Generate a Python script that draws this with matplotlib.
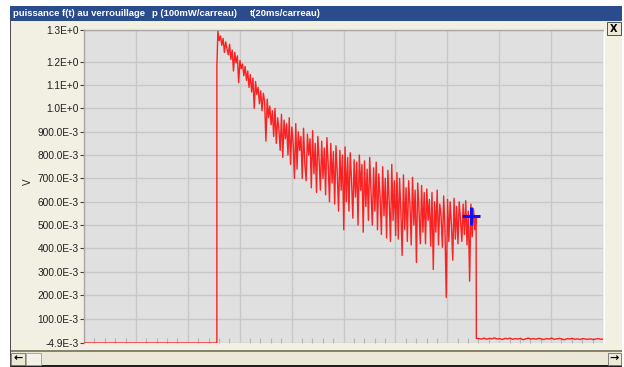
import numpy as np
import matplotlib
matplotlib.use("Agg")
import matplotlib.pyplot as plt
from matplotlib.patches import Rectangle
from matplotlib.ticker import MultipleLocator

# ---- data (power in milli-units, time in ms) ----
y_min = -0.0049
y_max = 1.338
t_rise = 51.2
rise_step = 1180          # small intermediate step on the rising edge
t_start = 51.6            # first sample of the pulse
dt_ms = 0.5

pulse_milli = [
    # 51.6 .. 61.1 ms
    1330, 1290, 1310, 1270, 1300, 1240, 1285, 1255, 1230, 1275,
    1210, 1250, 1160, 1240, 1195, 1225, 1110, 1205, 1170, 1190,
    # 61.6 .. 71.1 ms
    1140, 1180, 1120, 1160, 1090, 1145, 1070, 1130, 1000, 1115,
    1060, 1090, 1020, 1075, 990, 1065, 1030, 860, 1040, 960,
    # 71.6 .. 81.1 ms
    1010, 930, 990, 880, 1000, 850, 960, 910, 820, 975,
    790, 950, 870, 935, 800, 960, 760, 920, 850, 700,
    # 81.6 .. 91.1 ms
    935, 740, 900, 820, 880, 700, 915, 760, 690, 890,
    800, 870, 660, 905, 720, 850, 640, 880, 780, 650,
    # 91.6 .. 101.1 ms
    860, 700, 830, 630, 875, 760, 600, 850, 680, 815,
    590, 840, 720, 560, 820, 650, 800, 480, 835, 600,
    # 101.6 .. 111.1 ms
    790, 560, 810, 690, 530, 780, 620, 770, 500, 800,
    650, 760, 470, 775, 580, 740, 520, 790, 640, 500,
    # 111.6 .. 121.1 ms
    745, 560, 770, 480, 720, 620, 460, 750, 540, 700,
    445, 735, 600, 430, 760, 520, 690, 455, 725, 440,
    # 121.6 .. 131.1 ms
    700, 560, 370, 715, 480, 660, 430, 690, 590, 415,
    705, 500, 650, 340, 680, 560, 420, 670, 470, 640,
    # 131.6 .. 141.1 ms
    420, 655, 520, 610, 410, 640, 310, 600, 470, 650,
    415, 590, 540, 405, 625, 480, 190, 610, 430, 600,
    # 141.6 .. 151.1 ms
    500, 350, 615, 440, 580, 420, 600, 520, 430, 590,
    460, 605, 415, 560, 260, 590, 450, 570, 480, 530,
]

baseline_milli = [
    15, 14, 12, 16, 11, 15, 13, 17, 12, 14,
    10, 15, 13, 16, 11, 14, 12, 15, 9, 13,
    16, 12, 14, 11, 15, 13, 10, 14, 12, 16,
    11, 13, 15, 12, 9, 14, 12, 15, 11, 13,
    10, 14, 12, 11, 13, 10, 12, 14, 11, 12,
]
t_fall_end = 151.2
dt_base = 1.0

cursor_t = 149.0
cursor_p = 0.54

y_ticks = [y_min, 0.1, 0.2, 0.3, 0.4, 0.5, 0.6, 0.7, 0.8, 0.9, 1.0, 1.1, 1.2, y_max]
y_labels = ['-4.9E-3', '100.0E-3', '200.0E-3', '300.0E-3', '400.0E-3', '500.0E-3',
            '600.0E-3', '700.0E-3', '800.0E-3', '900.0E-3', '1.0E+0', '1.1E+0',
            '1.2E+0', '1.3E+0']

title_parts = ['puissance f(t) au verrouillage', 'p (100mW/carreau)', 't(20ms/carreau)']

# ---- build the trace ----
t_pulse = t_start + dt_ms * np.arange(len(pulse_milli))
t_base = t_fall_end + dt_base * np.arange(len(baseline_milli))
t_all = np.concatenate([[0.0, t_rise, t_rise], t_pulse, t_base])
p_all = np.concatenate([[y_min * 1000, y_min * 1000, rise_step], pulse_milli, baseline_milli]) / 1000.0

# ---- figure & window chrome ----
W, H = 624, 367
fig = plt.figure(figsize=(W / 100, H / 100), dpi=100, facecolor='white')


def box(x0, y0, x1, y1):
    return (x0 / W, 1 - y1 / H, (x1 - x0) / W, (y1 - y0) / H)


def rect(x0, y0, x1, y1, fc, ec='none', lw=0, z=-5):
    l, b, w, h = box(x0, y0, x1, y1)
    fig.add_artist(Rectangle((l, b), w, h, transform=fig.transFigure,
                             facecolor=fc, edgecolor=ec, linewidth=lw, zorder=z))


rect(10, 20, 622, 366, '#f2f0e3')             # window body
rect(10, 6, 622, 20.5, '#2b4c8c')             # title bar
rect(603.5, 29, 605, 344, '#ffffff', z=-4)    # light separator right of plot
rect(10, 350, 622, 352, '#86846f', z=-4)      # scrollbar top border
rect(10, 352, 622, 365, '#ebe8d8', z=-4)      # scrollbar track
rect(10, 365, 622, 367, '#202020', z=-4)      # bottom border
rect(10, 20, 11, 366, '#505050', z=-3)        # left border
rect(11, 352.5, 25, 364.5, '#ece9d8', ec='#707070', lw=0.6, z=-2)   # left arrow btn
rect(26, 352.5, 41, 364.5, '#f4f2e8', ec='#a0a090', lw=0.6, z=-2)   # thumb
rect(608, 352.5, 621, 364.5, '#ece9d8', ec='#707070', lw=0.6, z=-2)  # right arrow btn
rect(607, 22, 621, 35, '#ece9d8', ec='#505050', lw=0.7, z=-2)       # close button

fig.text(18 / W, 1 - 358.5 / H, '\u2190', ha='center', va='center', fontsize=8,
         fontweight='bold', color='black')
fig.text(614.5 / W, 1 - 358.5 / H, '\u2192', ha='center', va='center', fontsize=8,
         fontweight='bold', color='black')
fig.text(614 / W, 1 - 28.5 / H, 'X', ha='center', va='center', fontsize=7,
         fontweight='bold', color='black', family='DejaVu Sans')

for x_px, txt in zip([13, 152, 250], title_parts):
    fig.text(x_px / W, 1 - 13.5 / H, txt, ha='left', va='center', fontsize=6.8,
             fontweight='bold', color='white', family='Liberation Sans')

fig.text(28 / W, 1 - 182 / H, 'V', rotation=90, ha='center', va='center',
         fontsize=7, color='#202020', family='Liberation Sans')

# ---- plot area ----
ax = fig.add_axes(box(84, 29.5, 603, 343))
ax.set_facecolor('#e0e0e0')
ax.plot(t_all, p_all, color='#ff0000', lw=1.0, alpha=0.85, zorder=3)
ax.plot([cursor_t], [cursor_p], marker='+', markersize=13, mew=2.2,
        color='#1010ff', zorder=5)

ax.set_xlim(0, 200)
ax.set_ylim(y_min, y_max)
ax.set_yticks(y_ticks)
ax.set_yticklabels(y_labels)
ax.xaxis.set_major_locator(MultipleLocator(20))
ax.xaxis.set_minor_locator(MultipleLocator(4))
ax.tick_params(axis='x', which='major', length=0, labelbottom=False)
ax.tick_params(axis='x', which='minor', direction='in', length=3.5, width=0.8,
               color='#b4b4b4')
ax.tick_params(axis='y', which='major', direction='out', length=3, width=0.8,
               color='#404040', pad=1, labelsize=7.3, labelcolor='#202020')
for lbl in ax.get_yticklabels():
    lbl.set_family('Liberation Sans')

ax.grid(True, which='major', color='#c8c8c8', lw=1.0, zorder=1)
ax.set_axisbelow(True)
for side in ['bottom', 'right']:
    ax.spines[side].set_visible(False)
for side in ['top', 'left']:
    ax.spines[side].set_color('#a8a8a8')
    ax.spines[side].set_linewidth(1.0)

fig.savefig('out.png', dpi=100, facecolor='white')
